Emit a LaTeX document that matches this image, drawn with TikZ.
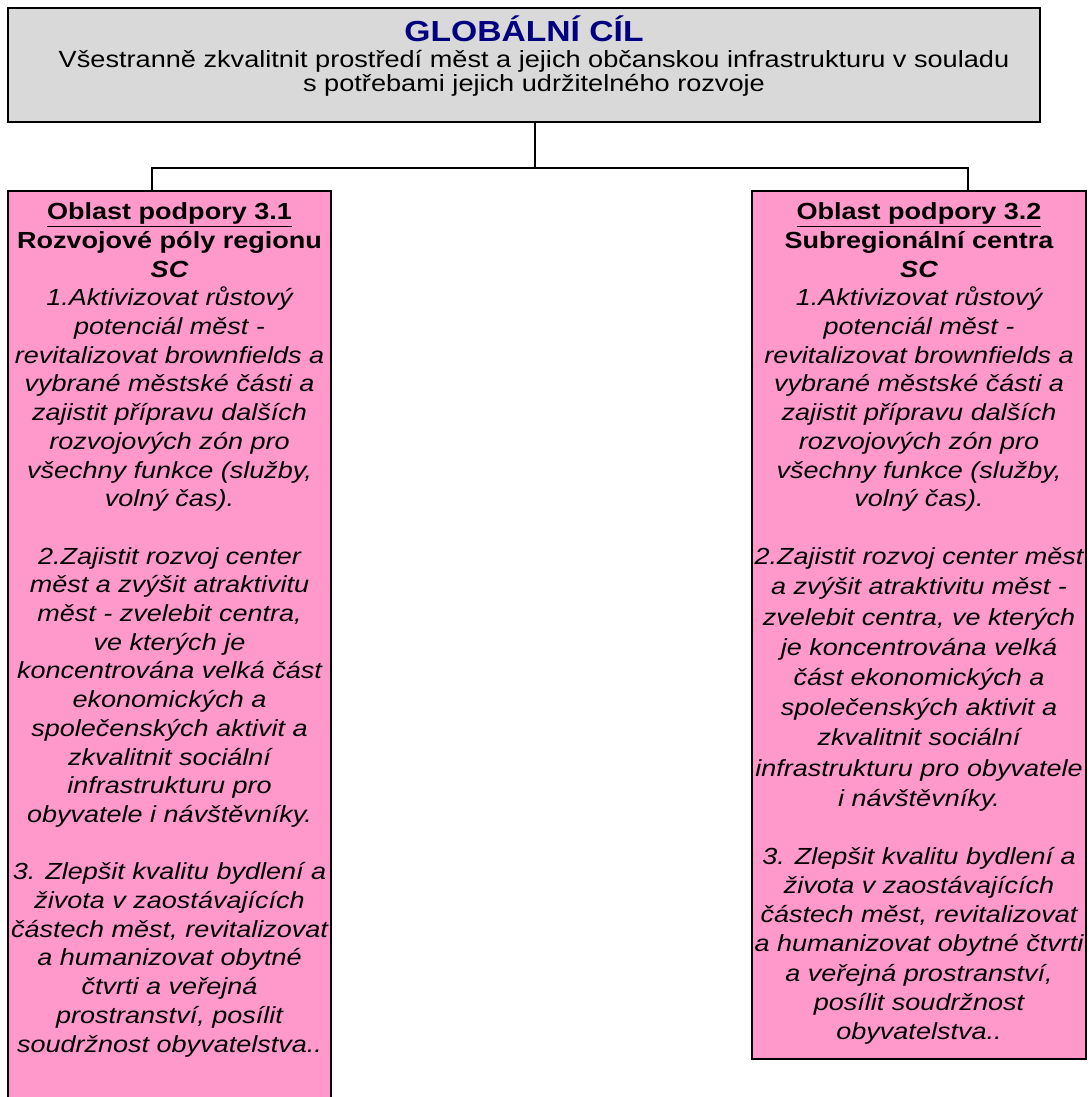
\documentclass[tikz,border=0pt]{standalone}
\usepackage{fontspec}
\setmainfont{Liberation Sans}[FakeStretch=1.16]
\usetikzlibrary{calc}
\definecolor{goalgray}{HTML}{D9D9D9}
\definecolor{areapink}{HTML}{FF99CC}
\definecolor{goalblue}{HTML}{000080}
\newcommand{\areafont}[1]{\fontsize{23.3}{#1}\selectfont}

\begin{document}
\begin{tikzpicture}[x=1pt,y=-1pt,
    goalbox/.style={draw,line width=1.8pt,fill=goalgray,minimum width=1032pt,
      minimum height=114pt,align=center,inner sep=0pt,text depth=22pt,
      font=\fontsize{23.4}{24}\selectfont},
    areabox/.style={draw,line width=1.8pt,fill=areapink,inner xsep=2pt,
      inner ysep=12pt,anchor=north},
    link/.style={line width=1.8pt}]
  \useasboundingbox (0,0) rectangle (1088,1097);

  % global goal
  \node[goalbox] (cil) at (524,65)
    {{\fontsize{29}{30}\selectfont\bfseries\color{goalblue}GLOBÁLNÍ CÍL}\\[2pt]
     \hspace*{20pt}Všestranně zkvalitnit prostředí měst a jejich občanskou infrastrukturu v souladu\\
     \hspace*{20pt}s potřebami jejich udržitelného rozvoje};

  % areas of support
  \node[areabox] (oblast1) at (169.5,190)
    {\parbox[c][916pt][t]{319pt}{\centering\areafont{28.7}
     \underline{\textbf{Oblast podpory 3.1}}\\
     \textbf{Rozvojové póly regionu}\\
     {\bfseries\itshape SC}\\
     {\itshape 1.Aktivizovat růstový\\
     potenciál měst -\\
     revitalizovat brownfields a\\
     vybrané městské části a\\
     zajistit přípravu dalších\\
     rozvojových zón pro\\
     všechny funkce (služby,\\
     volný čas).\\[28.7pt]
     2.Zajistit rozvoj center\\
     měst a zvýšit atraktivitu\\
     měst - zvelebit centra,\\
     ve kterých je\\
     koncentrována velká část\\
     ekonomických a\\
     společenských aktivit a\\
     zkvalitnit sociální\\
     infrastrukturu pro\\
     obyvatele i návštěvníky.\\[28.7pt]
     3. Zlepšit kvalitu bydlení a\\
     života v zaostávajících\\
     částech měst, revitalizovat\\
     a humanizovat obytné\\
     čtvrti a veřejná\\
     prostranství, posílit\\
     soudržnost obyvatelstva..}}};

  \node[areabox] (oblast2) at (919,190)
    {\parbox[c][844pt][t]{330pt}{\centering
     {\areafont{28.7}
     \underline{\textbf{Oblast podpory 3.2}}\\
     \textbf{Subregionální centra}\\
     {\bfseries\itshape SC}\\
     {\itshape 1.Aktivizovat růstový\\
     potenciál měst -\\
     revitalizovat brownfields a\\
     vybrané městské části a\\
     zajistit přípravu dalších\\
     rozvojových zón pro\\
     všechny funkce (služby,\\
     volný čas).}\par}
     \vspace{27.8pt}
     {\areafont{30.2}\itshape
     2.Zajistit rozvoj center měst\\
     a zvýšit atraktivitu měst -\\
     zvelebit centra, ve kterých\\
     je koncentrována velká\\
     část ekonomických a\\
     společenských aktivit a\\
     zkvalitnit sociální\\
     infrastrukturu pro obyvatele\\
     i návštěvníky.\par}
     \vspace{28.8pt}
     {\areafont{29.2}\itshape
     3. Zlepšit kvalitu bydlení a\\
     života v zaostávajících\\
     částech měst, revitalizovat\\
     a humanizovat obytné čtvrti\\
     a veřejná prostranství,\\
     posílit soudržnost\\
     obyvatelstva..\par}}};

  % connectors
  \coordinate (split) at (535,168);
  \draw[link] (split |- cil.south) -- (split);
  \draw[link] ([xshift=-17.5pt]oblast1.north) |- (split) -| ([xshift=49pt]oblast2.north);
\end{tikzpicture}
\end{document}
